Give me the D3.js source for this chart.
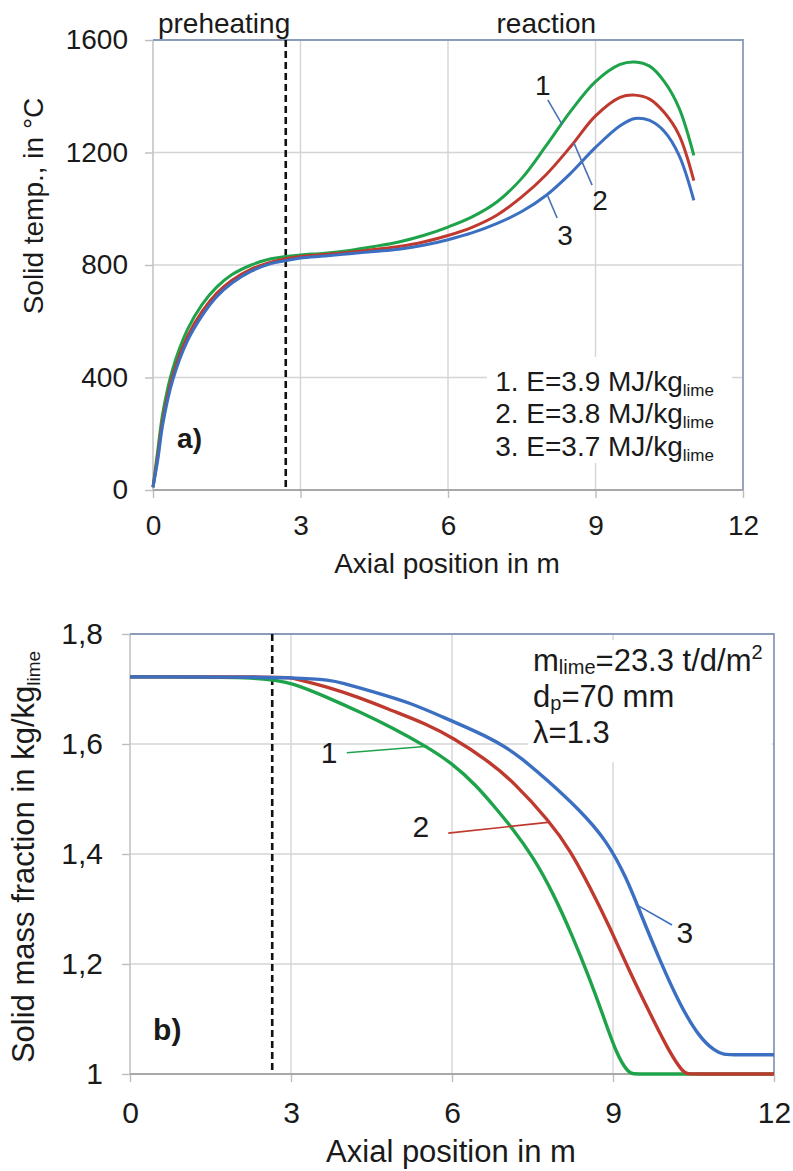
<!DOCTYPE html>
<html>
<head>
<meta charset="utf-8">
<script src="https://cdn.jsdelivr.net/npm/d3@7"></script>
<style>
  body { margin: 0; background: #fff; }
  svg { display: block; }
  text { font-family: "Liberation Sans", Arial, sans-serif; fill: #1a1a1a; }
</style>
</head>
<body>
<svg id="fig" width="793" height="1171"></svg>
<script>
// ---------- shared ----------
const xTicks = [0, 3, 6, 9, 12];
const seriesLabels = ["1", "2", "3"];
const seriesColors = ["#1fa34a", "#c0392f", "#3b6fc2"];

// ---------- panel a: solid temperature ----------
const tempTicks = [0, 400, 800, 1200, 1600];
const posTemp = [0, 0.1, 0.2, 0.4, 0.7, 1.0, 1.3, 1.6, 2.0, 2.4, 2.7, 3.0, 3.5, 4.0, 4.5, 5.0, 5.5, 6.0, 6.5, 7.0, 7.5, 8.0, 8.5, 9.0, 9.5, 9.8, 10.1, 10.4, 10.7, 11.0];
const temp1 = [10, 145, 275, 430, 570, 660, 722, 765, 800, 822, 830, 836, 842, 852, 866, 882, 905, 935, 972, 1025, 1108, 1225, 1348, 1452, 1513, 1522, 1507, 1452, 1358, 1190];
const temp2 = [10, 125, 250, 405, 545, 635, 700, 745, 785, 810, 822, 830, 837, 845, 855, 866, 882, 905, 935, 978, 1042, 1122, 1222, 1330, 1396, 1404, 1390, 1342, 1262, 1100];
const temp3 = [10, 110, 235, 390, 530, 620, 688, 735, 778, 805, 815, 825, 832, 840, 848, 856, 870, 890, 915, 948, 990, 1048, 1127, 1218, 1295, 1321, 1314, 1275, 1190, 1030];
const legendA = ["1. E=3.9 MJ/kg", "2. E=3.8 MJ/kg", "3. E=3.7 MJ/kg"];
const preheatEndA = 2.7;

// ---------- panel b: solid mass fraction ----------
const fracTicks = [1, 1.2, 1.4, 1.6, 1.8];
const fracTickLabels = ["1", "1,2", "1,4", "1,6", "1,8"];
const posFrac1 = [0, 2.45, 3.04, 3.67, 4.29, 4.9, 5.53, 6.0, 6.45, 6.8, 7.14, 7.51, 7.88, 8.25, 8.57, 8.81, 9.07, 9.28, 9.36, 9.6, 12];
const frac1 = [1.722, 1.722, 1.711, 1.685, 1.658, 1.629, 1.595, 1.565, 1.525, 1.485, 1.445, 1.395, 1.33, 1.25, 1.172, 1.108, 1.035, 1.003, 1.0, 1.0, 1.0];
const posFrac2 = [0, 2.9, 3.04, 3.67, 4.29, 4.9, 5.53, 6.02, 6.65, 7.14, 7.83, 8.2, 8.57, 8.94, 9.32, 9.69, 10.06, 10.3, 10.38, 10.6, 12];
const frac2 = [1.722, 1.722, 1.72, 1.704, 1.684, 1.66, 1.636, 1.611, 1.571, 1.532, 1.458, 1.407, 1.34, 1.267, 1.184, 1.11, 1.038, 1.004, 1.0, 1.0, 1.0];
const posFrac3 = [0, 3.48, 3.97, 4.6, 5.22, 5.83, 6.47, 6.95, 7.27, 7.77, 8.38, 8.88, 9.26, 9.5, 9.88, 10.25, 10.62, 10.9, 11.05, 11.3, 12];
const frac3 = [1.722, 1.722, 1.711, 1.693, 1.675, 1.649, 1.622, 1.598, 1.576, 1.535, 1.48, 1.425, 1.355, 1.295, 1.205, 1.125, 1.065, 1.042, 1.035, 1.035, 1.035];
const preheatEndB = 2.65;

const svg = d3.select("#fig");

// text with sub/superscript pieces: parts = [[string, "sub"|"sup"|null], ...]
function richText(g, x, y, parts, size, subSize, subShift, anchor) {
  const t = g.append("text").attr("x", x).attr("y", y)
    .attr("font-size", size).attr("text-anchor", anchor || "start");
  let shift = 0;
  parts.forEach(([s, kind]) => {
    const target = kind === "sub" ? subShift : kind === "sup" ? -size * 0.38 : 0;
    t.append("tspan")
      .attr("dy", target - shift)
      .attr("font-size", kind ? subSize : size)
      .text(s);
    shift = target;
  });
  return t;
}

function panel(cfg) {
  const g = svg.append("g");
  const x = d3.scaleLinear().domain([0, 12]).range([cfg.left, cfg.right]);
  const y = d3.scaleLinear().domain(cfg.yDomain).range([cfg.bottom, cfg.top]);

  // grid
  g.append("g").selectAll("line").data(cfg.yTicks.slice(1, -1)).join("line")
    .attr("x1", cfg.left).attr("x2", cfg.right)
    .attr("y1", d => y(d)).attr("y2", d => y(d))
    .attr("stroke", "#d4d4d4").attr("stroke-width", 1.4);
  g.append("g").selectAll("line").data(xTicks.slice(1, -1)).join("line")
    .attr("x1", d => x(d)).attr("x2", d => x(d))
    .attr("y1", cfg.top).attr("y2", cfg.bottom)
    .attr("stroke", "#d4d4d4").attr("stroke-width", 1.4);

  // axes
  const ax = g.append("g").attr("transform", `translate(0,${cfg.bottom})`)
    .call(d3.axisBottom(x).tickValues(xTicks).tickSize(8).tickPadding(cfg.xPad).tickFormat(d3.format("d")));
  const ay = g.append("g").attr("transform", `translate(${cfg.left},0)`)
    .call(d3.axisLeft(y).tickValues(cfg.yTicks).tickSize(8).tickPadding(cfg.yPad)
      .tickFormat((d, i) => cfg.yTickLabels[i]));
  [ax, ay].forEach(a => {
    a.select(".domain").remove();
    a.selectAll("line").attr("stroke", "#bdbdbd").attr("stroke-width", 1.4);
    a.selectAll("text").attr("font-size", cfg.tickFs).attr("fill", "#1a1a1a")
      .style("font-family", "'Liberation Sans', Arial, sans-serif");
  });
  g.append("line").attr("x1", cfg.left).attr("x2", cfg.left).attr("y1", cfg.top).attr("y2", cfg.bottom)
    .attr("stroke", "#c4c4c4").attr("stroke-width", 1.6);
  g.append("line").attr("x1", cfg.left).attr("x2", cfg.right).attr("y1", cfg.bottom).attr("y2", cfg.bottom)
    .attr("stroke", "#a8a8a8").attr("stroke-width", 1.8);
  // plot frame, top and right
  g.append("path")
    .attr("d", `M${cfg.left},${cfg.top}H${cfg.right}V${cfg.bottom}`)
    .attr("fill", "none").attr("stroke", "#8a9cba").attr("stroke-width", 1.8);

  // white box behind the in-plot text block
  const b = cfg.box;
  g.append("rect").attr("x", x(b[0])).attr("y", y(b[1]))
    .attr("width", x(b[2]) - x(b[0])).attr("height", y(b[3]) - y(b[1]))
    .attr("fill", "#fff");

  // end of preheating zone
  g.append("line").attr("x1", x(cfg.preheatEnd)).attr("x2", x(cfg.preheatEnd))
    .attr("y1", cfg.top).attr("y2", cfg.bottom)
    .attr("stroke", "#111").attr("stroke-width", 2.6).attr("stroke-dasharray", "7,4");

  // curves
  const line = d3.line().x(d => x(d[0])).y(d => y(d[1])).curve(cfg.curve);
  cfg.series.forEach((s, i) => {
    g.append("path").datum(d3.zip(s.x, s.y))
      .attr("d", line).attr("fill", "none")
      .attr("stroke", seriesColors[i]).attr("stroke-width", cfg.lw)
      .attr("stroke-linejoin", "round");
  });

  // curve labels with leader lines
  cfg.callouts.forEach((c, i) => {
    g.append("line")
      .attr("x1", x(c.from[0])).attr("y1", y(c.from[1]))
      .attr("x2", x(c.to[0])).attr("y2", y(c.to[1]))
      .attr("stroke", c.color).attr("stroke-width", 1.6);
    g.append("text").attr("x", x(c.at[0])).attr("y", y(c.at[1]))
      .attr("text-anchor", "middle").attr("font-size", cfg.tickFs).text(seriesLabels[i]);
  });

  // panel tag
  g.append("text").attr("x", x(cfg.tag.at[0])).attr("y", y(cfg.tag.at[1]))
    .attr("font-size", cfg.tickFs).attr("font-weight", "bold").text(cfg.tag.text);

  // axis titles
  g.append("text").attr("x", (cfg.left + cfg.right) / 2 - 1).attr("y", cfg.xTitleY)
    .attr("text-anchor", "middle").attr("font-size", cfg.fs).text("Axial position in m");
  const yt = richText(g, 0, 0, cfg.yTitle, cfg.fs, cfg.subFs, cfg.subFs * 0.3, "middle");
  yt.attr("transform", `translate(${cfg.yTitlePos[0]},${cfg.yTitlePos[1]}) rotate(-90)`);

  return { g, x, y };
}

// ---------- panel a ----------
const A = panel({
  left: 153, right: 743, top: 40, bottom: 490,
  yDomain: [0, 1600], yTicks: tempTicks, yTickLabels: tempTicks.map(String),
  xPad: 17, yPad: 17, fs: 28, tickFs: 28, subFs: 17, lw: 3,
  curve: d3.curveCatmullRom.alpha(0.5),
  preheatEnd: preheatEndA,
  box: [6.79, 473, 11.78, 96],
  series: [{ x: posTemp, y: temp1 }, { x: posTemp, y: temp2 }, { x: posTemp, y: temp3 }],
  callouts: [
    { at: [7.93, 1404], from: [8.03, 1387], to: [8.32, 1300], color: "#4a72b4" },
    { at: [9.09, 996], from: [8.56, 1234], to: [8.93, 1084], color: "#4a72b4" },
    { at: [8.38, 871], from: [8.03, 1045], to: [8.22, 967], color: "#4a72b4" }
  ],
  tag: { text: "a)", at: [0.49, 149] },
  xTitleY: 573,
  yTitle: [["Solid temp., in °C", null]],
  yTitlePos: [43, 206]
});

// zone captions above panel a
A.g.append("text").attr("x", A.x(0.1)).attr("y", 33).attr("font-size", 28).text("preheating");
A.g.append("text").attr("x", A.x(8.0)).attr("y", 33).attr("text-anchor", "middle")
  .attr("font-size", 28).text("reaction");

// energy legend
const legendY = [352, 238, 121];
legendA.forEach((s, i) => {
  richText(A.g, A.x(6.96), A.y(legendY[i]), [[s, null], ["lime", "sub"]], 28, 17, 5);
});

// ---------- panel b ----------
const B = panel({
  left: 130, right: 774, top: 634, bottom: 1074,
  yDomain: [1, 1.8], yTicks: fracTicks, yTickLabels: fracTickLabels,
  xPad: 20, yPad: 19, fs: 31, tickFs: 30, subFs: 19, lw: 3.4,
  curve: d3.curveBasis,
  preheatEnd: preheatEndB,
  box: [7.42, 1.789, 11.96, 1.567],
  series: [{ x: posFrac1, y: frac1 }, { x: posFrac2, y: frac2 }, { x: posFrac3, y: frac3 }],
  callouts: [
    { at: [3.71, 1.565], from: [4.04, 1.584], to: [5.55, 1.596], color: seriesColors[0] },
    { at: [5.42, 1.431], from: [5.93, 1.438], to: [7.83, 1.458], color: seriesColors[1] },
    { at: [10.34, 1.238], from: [10.1, 1.271], to: [9.45, 1.307], color: seriesColors[2] }
  ],
  tag: { text: "b)", at: [0.43, 1.062] },
  xTitleY: 1162,
  yTitle: [["Solid mass fraction in kg/kg", null], ["lime", "sub"]],
  yTitlePos: [34, 857]
});

// operating conditions
richText(B.g, B.x(7.51), B.y(1.733), [["m", null], ["lime", "sub"], ["=23.3 t/d/m", null], ["2", "sup"]], 31, 20, 3);
richText(B.g, B.x(7.51), B.y(1.667), [["d", null], ["p", "sub"], ["=70 mm", null]], 31, 20, 3);
richText(B.g, B.x(7.51), B.y(1.602), [["λ=1.3", null]], 31, 20, 3);
</script>
</body>
</html>
